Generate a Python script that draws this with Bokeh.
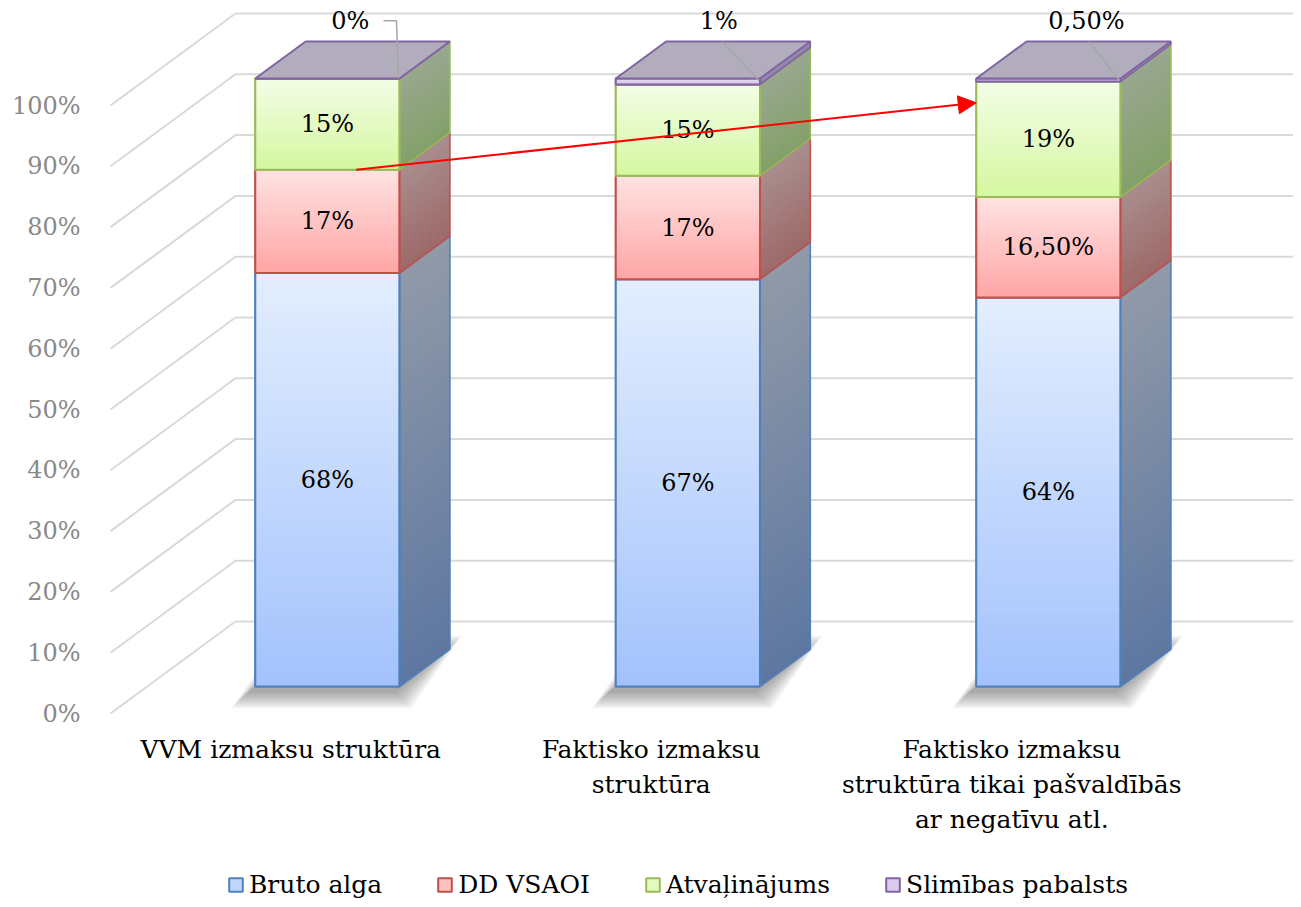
import numpy as np
from bokeh.plotting import figure
from bokeh.models import (Range1d, FixedTicker, PrintfTickFormatter, Legend,
                          LegendItem, Arrow, NormalHead)
from bokeh.core.properties import value
from bokeh.embed import file_html
from bokeh.resources import INLINE

# ---------------- data ----------------
categories = ["VVM izmaksu struktūra",
              "Faktisko izmaksu\nstruktūra",
              "Faktisko izmaksu\nstruktūra tikai pašvaldībās\nar negatīvu atl."]
series_names = ["Bruto alga", "DD VSAOI", "Atvaļinājums", "Slimības pabalsts"]
bruto_alga = [68, 67, 64]
dd_vsaoi = [17, 17, 16.5]
atvalinajums = [15, 15, 19]
slimibas_pabalsts = [0, 1, 0.5]
bruto_labels = ["68%", "67%", "64%"]
dd_labels = ["17%", "17%", "16,50%"]
atv_labels = ["15%", "15%", "19%"]
slim_labels = ["0%", "1%", "0,50%"]
y_ticks = [0, 10, 20, 30, 40, 50, 60, 70, 80, 90, 100]
arrow_from = (0, 85)   # (category index, value %) : bar 1, top of DD VSAOI
arrow_to = (2, 96)     # bar 3

series_values = [bruto_alga, dd_vsaoi, atvalinajums, slimibas_pabalsts]
series_labels = [bruto_labels, dd_labels, atv_labels, slim_labels]

# ---------------- styles / geometry ----------------
FONT = "DejaVu Serif"
FS = "24px"
FS_CAT = "25px"
SX = 360.5
SY = 6.08
DX = 125 / SX
DY = 92 / SY
D0, D1 = 0.293, 0.696
HW = 0.2

FRONT_TOP = ["#e3eefe", "#ffe2e2", "#f3fde6", "#e8def6"]
FRONT_BOT = ["#a3c2fc", "#ffa5a5", "#d5f7a0", "#cdbde8"]
SIDE_TOP = ["#9099a8", "#a98d8d", "#98a78f", "#9a8fae"]
SIDE_BOT = ["#5d77a1", "#9d6868", "#83a068", "#8a7aa6"]
BORDER = ["#4f81bd", "#c0504d", "#9bbb59", "#8064a2"]
TOP_FACE = "#b2adbd"
GRID = "#d9d9d9"
SLIM_LABEL_DX_PX = [23, 31, 38]


def hex2rgb(h):
    h = h.lstrip("#")
    return np.array([int(h[i:i + 2], 16) for i in (0, 2, 4)], dtype=float)


def mix(c1, c2, t):
    a, b = hex2rgb(c1), hex2rgb(c2)
    c = a + (b - a) * t
    return "#%02x%02x%02x" % tuple(int(round(v)) for v in c)


def proj(x, v, d):
    return x + d * DX, v + d * DY


W, H = 1293, 899
LEFT = 100
x0 = (LEFT - 110) / SX
x1 = (W - 110) / SX
ytop = (713 - 0) / SY
ybot = (713 - H) / SY

p = figure(width=W, height=H, output_backend="svg", toolbar_location=None,
           x_range=Range1d(x0, x1), y_range=Range1d(ybot, ytop),
           min_border_left=LEFT, min_border_right=0, min_border_top=0,
           min_border_bottom=0)
p.outline_line_color = None
p.xgrid.visible = False
p.ygrid.visible = False
p.xaxis.visible = False
p.background_fill_color = "white"
p.border_fill_color = "white"

ya = p.yaxis[0]
ya.ticker = FixedTicker(ticks=y_ticks)
ya.formatter = PrintfTickFormatter(format="%d%%")
ya.axis_line_color = None
ya.major_tick_line_color = None
ya.minor_tick_line_color = None
ya.major_tick_out = 0
ya.major_tick_in = 0
ya.major_label_standoff = 20
ya.major_label_text_font = FONT
ya.major_label_text_font_size = FS
ya.major_label_text_color = "#898989"

ncat = len(categories)
centers = np.arange(ncat) + 0.5

# 3D gridlines (side wall + back wall)
gx, gy = [], []
for v in y_ticks:
    ax, ay = proj(0.0, v, 0.0)
    bx, by = proj(0.0, v, 1.0)
    cx, cy = proj(float(ncat), v, 1.0)
    gx.append([ax, bx, cx])
    gy.append([ay, by, cy])
p.multi_line(gx, gy, line_color=GRID, line_width=2)

# soft floor shadows
for k in range(8):
    e = (8 - k) * 2.2
    sxs, sys_ = [], []
    for c in centers:
        fl = proj(c - HW, 0, D0)
        fr = proj(c + HW, 0, D0)
        br = proj(c + HW, 0, D1)
        bl = proj(c - HW, 0, D1)
        offx, offy = -6 / SX, -4 / SY
        ex, ey = e / SX, e / SY
        sxs.append([fl[0] + offx - ex, fr[0] + offx + ex, br[0] + offx + ex, bl[0] + offx - ex])
        sys_.append([fl[1] + offy - ey, fr[1] + offy - ey, br[1] + offy + ey, bl[1] + offy + ey])
    p.patches(sxs, sys_, fill_color="#404040", fill_alpha=0.07, line_color=None)

# stacked 3D bars
cum = np.zeros(ncat)
legend_renderers = []
for s, vals in enumerate(series_values):
    vals = np.array(vals, dtype=float)
    bottoms = cum.copy()
    tops = cum + vals
    fl = centers - HW + D0 * DX
    fr = centers + HW + D0 * DX
    fb = bottoms + D0 * DY
    ft = tops + D0 * DY
    r = p.quad(left=fl, right=fr, bottom=fb, top=ft,
               fill_color=mix(FRONT_TOP[s], FRONT_BOT[s], 0.55),
               line_color=BORDER[s], line_width=2)
    legend_renderers.append(r)
    ql, qr, qb, qt, qc = [], [], [], [], []
    sx_, sy_, sc = [], [], []
    for i in range(ncat):
        hpx = vals[i] * SY
        if hpx <= 0:
            continue
        n = max(1, int(np.ceil(hpx / 3.0)))
        edges = np.linspace(bottoms[i], tops[i], n + 1)
        for j in range(n):
            t = 1 - (j + 0.5) / n
            ql.append(fl[i]); qr.append(fr[i])
            qb.append(edges[j] + D0 * DY); qt.append(edges[j + 1] + D0 * DY)
            qc.append(mix(FRONT_TOP[s], FRONT_BOT[s], t))
            a = proj(centers[i] + HW, edges[j], D0)
            b = proj(centers[i] + HW, edges[j], D1)
            c2 = proj(centers[i] + HW, edges[j + 1], D1)
            d2 = proj(centers[i] + HW, edges[j + 1], D0)
            sx_.append([a[0], b[0], c2[0], d2[0]])
            sy_.append([a[1], b[1], c2[1], d2[1]])
            sc.append(mix(SIDE_TOP[s], SIDE_BOT[s], t))
    if ql:
        p.quad(left=ql, right=qr, bottom=qb, top=qt, fill_color=qc,
               line_color=qc, line_width=1)
        p.patches(sx_, sy_, fill_color=sc, line_color=sc, line_width=1)
    p.quad(left=fl, right=fr, bottom=fb, top=ft, fill_color=None,
           line_color=BORDER[s], line_width=2)
    oxs, oys = [], []
    for i in range(ncat):
        a = proj(centers[i] + HW, bottoms[i], D0)
        b = proj(centers[i] + HW, bottoms[i], D1)
        c2 = proj(centers[i] + HW, tops[i], D1)
        d2 = proj(centers[i] + HW, tops[i], D0)
        oxs.append([a[0], b[0], c2[0], d2[0]])
        oys.append([a[1], b[1], c2[1], d2[1]])
    p.patches(oxs, oys, fill_color=None, line_color=BORDER[s], line_width=1.5)
    cum = tops

txs, tys = [], []
for i in range(ncat):
    pts = [proj(centers[i] - HW, cum[i], D0), proj(centers[i] + HW, cum[i], D0),
           proj(centers[i] + HW, cum[i], D1), proj(centers[i] - HW, cum[i], D1)]
    txs.append([q[0] for q in pts])
    tys.append([q[1] for q in pts])
p.patches(txs, tys, fill_color=TOP_FACE, line_color=BORDER[3], line_width=2)

# data labels
cum = np.zeros(ncat)
lx, ly, lt = [], [], []
for s in range(3):
    vals = np.array(series_values[s], dtype=float)
    for i in range(ncat):
        lx.append(centers[i] + D0 * DX)
        ly.append(cum[i] + vals[i] / 2 + D0 * DY)
        lt.append(series_labels[s][i])
    cum = cum + vals
p.text(lx, ly, text=lt, text_align="center", text_baseline="middle",
       text_font=value(FONT), text_font_size=FS, text_color="black")

totals = cum + np.array(slimibas_pabalsts, dtype=float)
slx = [centers[i] + D0 * DX + SLIM_LABEL_DX_PX[i] / SX for i in range(ncat)]
sly = [totals[i] + D1 * DY + 3.4 for i in range(ncat)]
p.text(slx, sly, text=slim_labels, text_align="center", text_baseline="middle",
       text_font=value(FONT), text_font_size=FS, text_color="black")

lxs, lys = [], []
for i in range(ncat):
    cx_, cy_ = proj(centers[i] + HW, totals[i], D0)
    if i == 0:
        lxs.append([cx_ - 16 / SX, cx_ - 3 / SX, cx_ - 1 / SX])
        lys.append([sly[i], sly[i], cy_])
    else:
        lxs.append([slx[i] + 3 / SX, cx_ - 1 / SX])
        lys.append([sly[i] - 21 / SY, cy_ - 2 / SY])
p.multi_line(lxs, lys, line_color="#a6a6a6", line_width=1.5)

# category labels
p.text(list(centers), [-3.6] * ncat, text=categories, text_align="center",
       text_baseline="top", text_font=value(FONT), text_font_size=FS_CAT,
       text_color="black", text_line_height=1.2)

# arrow
ax_s = centers[arrow_from[0]] - HW + D0 * DX + 0.7 * 2 * HW
ay_s = arrow_from[1] + D0 * DY
ax_e = centers[arrow_to[0]] - HW + D0 * DX
ay_e = arrow_to[1] + D0 * DY
p.add_layout(Arrow(x_start=ax_s, y_start=ay_s, x_end=ax_e, y_end=ay_e,
                   line_color="#ff0000", line_width=2,
                   end=NormalHead(size=18, fill_color="#ff0000",
                                  line_color="#ff0000")))

legend = Legend(items=[LegendItem(label=series_names[s], renderers=[legend_renderers[s]])
                       for s in range(4)],
                orientation="horizontal", location=(127, 0),
                label_text_font=FONT, label_text_font_size=FS_CAT,
                label_text_color="black",
                glyph_width=17, glyph_height=17, label_standoff=5,
                spacing=54, padding=0, margin=0,
                border_line_color=None, background_fill_alpha=0)
p.add_layout(legend)

open("out.html", "w").write(file_html(p, INLINE))
